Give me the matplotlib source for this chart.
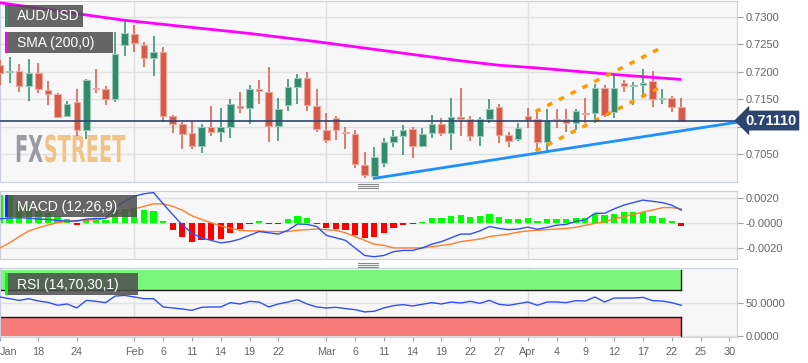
import numpy as np
import pandas as pd
import matplotlib.pyplot as plt
from matplotlib.patches import Rectangle, PathPatch
from matplotlib.lines import Line2D
from matplotlib.textpath import TextPath
from matplotlib.font_manager import FontProperties
import matplotlib.transforms as mtransforms

plt.rcParams['font.family'] = ['Liberation Sans', 'DejaVu Sans']

# ---------------- data ----------------
dates = pd.bdate_range('2019-01-14', '2019-04-30')

opens = [0.7212, 0.7199, 0.7201, 0.7174, 0.7197, 0.7167, 0.7159, 0.7119, 0.7144, 0.7094,
         0.7171, 0.7169, 0.7151, 0.7249, 0.7269, 0.7249, 0.7226, 0.7237, 0.7119, 0.7104,
         0.7089, 0.7065, 0.7100, 0.7090, 0.7100, 0.7138, 0.7134, 0.7168, 0.7164, 0.7101,
         0.7139, 0.7172, 0.7189, 0.7138, 0.7094, 0.7115, 0.7091, 0.7086, 0.7030, 0.7010,
         0.7033, 0.7071, 0.7083, 0.7096, 0.7065, 0.7088, 0.7105, 0.7089, 0.7117, 0.7114,
         0.7082, 0.7114, 0.7135, 0.7085, 0.7077, 0.7120, 0.7114, 0.7072, 0.7114, 0.7114,
         0.7106, 0.7125, 0.7124, 0.7171, 0.7126, 0.7179, 0.7174, 0.7176, 0.7183, 0.7150,
         0.7153, 0.7135]
highs = [0.7222, 0.7227, 0.7214, 0.7223, 0.7216, 0.7183, 0.7162, 0.7147, 0.7168, 0.7186,
         0.7206, 0.7174, 0.7273, 0.7296, 0.7285, 0.7255, 0.7265, 0.7246, 0.7121, 0.7108,
         0.7110, 0.7104, 0.7138, 0.7134, 0.7150, 0.7164, 0.7176, 0.7185, 0.7208, 0.7152,
         0.7186, 0.7196, 0.7200, 0.7168, 0.7124, 0.7119, 0.7100, 0.7094, 0.7053, 0.7063,
         0.7079, 0.7094, 0.7103, 0.7100, 0.7098, 0.7121, 0.7115, 0.7152, 0.7170, 0.7120,
         0.7118, 0.7150, 0.7141, 0.7091, 0.7106, 0.7134, 0.7133, 0.7132, 0.7133, 0.7133,
         0.7133, 0.7153, 0.7177, 0.7175, 0.7194, 0.7185, 0.7181, 0.7206, 0.7201, 0.7168,
         0.7155, 0.7153]
lows = [0.7176, 0.7180, 0.7163, 0.7147, 0.7162, 0.7139, 0.7115, 0.7117, 0.7082, 0.7077,
        0.7161, 0.7139, 0.7145, 0.7229, 0.7237, 0.7209, 0.7193, 0.7109, 0.7089, 0.7060,
        0.7059, 0.7052, 0.7082, 0.7072, 0.7080, 0.7124, 0.7104, 0.7142, 0.7071, 0.7074,
        0.7128, 0.7142, 0.7128, 0.7090, 0.7070, 0.7076, 0.7060, 0.7024, 0.7006, 0.7006,
        0.7027, 0.7062, 0.7049, 0.7043, 0.7062, 0.7080, 0.7083, 0.7057, 0.7083, 0.7074,
        0.7065, 0.7107, 0.7070, 0.7063, 0.7074, 0.7097, 0.7054, 0.7054, 0.7097, 0.7091,
        0.7094, 0.7106, 0.7107, 0.7118, 0.7115, 0.7164, 0.7139, 0.7152, 0.7136, 0.7142,
        0.7127, 0.7109]
closes = [0.7198, 0.7201, 0.7174, 0.7197, 0.7169, 0.7160, 0.7118, 0.7142, 0.7094, 0.7185,
          0.7169, 0.7151, 0.7232, 0.7270, 0.7252, 0.7226, 0.7237, 0.7119, 0.7104, 0.7086,
          0.7065, 0.7100, 0.7090, 0.7100, 0.7142, 0.7134, 0.7168, 0.7165, 0.7101, 0.7132,
          0.7172, 0.7189, 0.7139, 0.7095, 0.7076, 0.7093, 0.7088, 0.7031, 0.7012, 0.7045,
          0.7071, 0.7083, 0.7094, 0.7065, 0.7086, 0.7105, 0.7088, 0.7117, 0.7113, 0.7083,
          0.7114, 0.7133, 0.7085, 0.7074, 0.7097, 0.7112, 0.7072, 0.7112, 0.7112, 0.7106,
          0.7128, 0.7123, 0.7170, 0.7121, 0.7171, 0.7174, 0.7176, 0.7179, 0.7150, 0.7152,
          0.7135, 0.7111]

# SMA(200) read at a few candles
sma_pos = [0, 6, 13, 20, 26, 33, 39, 45, 48, 52, 56, 60, 64, 71]
sma_vals = [0.7326, 0.7311, 0.7294, 0.7281, 0.7270, 0.7255, 0.7241, 0.7227, 0.7220, 0.7212,
            0.7207, 0.7201, 0.7195, 0.7186]

# drawn trendlines (candle index, price)
support_x = [39, 76.8]
support_y = [0.70056, 0.71080]
chan_low_x = [55.8, 68.8]
chan_low_y = [0.70555, 0.71717]
chan_up_x = [55.8, 68.8]
chan_up_y = [0.71272, 0.72429]

macd_hist = [0.0022, 0.0022, 0.0016, 0.0013, 0.0010, 0.0008, 0.0005, 0.0003, -0.0002, 0.00026,
             0.00026, 0.0002, 0.0010, 0.0011, 0.0012, 0.00104, 0.0009, 0.0001, -0.0006, -0.0011,
             -0.00156, -0.0014, -0.0014, -0.0013, -0.0008, -0.0005, -0.00013, 0.00013, -0.0001, -0.0001,
             0.00026, 0.0005, 0.00034, -0.00008, -0.00044, -0.0005, -0.00057, -0.00096, -0.0012, -0.0011,
             -0.0008, -0.0004, -0.0002, -0.00013, 0.00008, 0.00034, 0.0004, 0.00055, 0.00065, 0.00047,
             0.00055, 0.00073, 0.00047, 0.00026, 0.00026, 0.00034, 0.00013, 0.0003, 0.0003, 0.0003,
             0.0004, 0.0004, 0.0007, 0.0006, 0.0007, 0.00086, 0.00086, 0.00086, 0.00055, 0.0004,
             0.00013, -0.00023]
macd_line = [0.00031, 0.00036, 0.0004, 0.00036, 0.0003, 0.00026, 0.00018, 0.00013, 0.00013, 0.00029,
             0.00034, 0.00034, 0.0012, 0.0017, 0.0021, 0.0023, 0.0024, 0.0015, 0.00065, -0.00018,
             -0.00083, -0.0012, -0.0014, -0.0016, -0.0015, -0.0013, -0.0010, -0.0007, -0.0008, -0.0009,
             -0.0006, -0.0001, -0.00013, -0.0003, -0.0010, -0.0012, -0.0014, -0.0020, -0.0026, -0.0027,
             -0.0026, -0.0023, -0.0022, -0.0022, -0.0020, -0.0017, -0.0015, -0.0012, -0.0009, -0.0009,
             -0.00065, -0.0003, -0.00045, -0.00055, -0.0005, -0.00035, -0.00052, -0.00037, -0.0002, -0.00013,
             0.0001, 0.00024, 0.00075, 0.00075, 0.0011, 0.0014, 0.0016, 0.0018, 0.0017, 0.0016,
             0.0014, 0.0010]
macd_signal = [-0.0020, -0.0016, -0.0011, -0.00065, -0.0004, -0.00018, 0.0, 0.0001, 0.00018, 0.0002,
               0.00023, 0.00034, 0.0006, 0.00086, 0.0011, 0.0013, 0.0015, 0.0015, 0.0013, 0.0010,
               0.00055, 0.00026, 0.0, -0.00026, -0.00044, -0.0006, -0.00065, -0.00065, -0.0007, -0.0007,
               -0.0007, -0.0006, -0.00055, -0.0005, -0.00055, -0.0006, -0.0008, -0.0011, -0.0014, -0.0017,
               -0.0018, -0.0020, -0.0020, -0.0020, -0.0020, -0.0019, -0.0018, -0.0017, -0.0015, -0.0014,
               -0.0013, -0.0011, -0.0010, -0.0009, -0.00075, -0.00065, -0.0006, -0.00055, -0.0005, -0.00045,
               -0.00036, -0.0002, -0.00005, 0.00008, 0.0003, 0.00047, 0.00065, 0.00086, 0.0010, 0.0012,
               0.0012, 0.0011]

rsi = [59.6, 57, 54.5, 57, 53.5, 51.5, 47, 49, 43, 54.5,
       53, 51, 61, 62, 59.6, 57, 57, 44.5, 43, 41.4,
       39.4, 44, 44.5, 44.5, 51, 49, 53, 52, 44.5, 49,
       52, 55.5, 49, 44.5, 43, 44, 42, 40.4, 37, 38,
       43, 46.5, 48, 46, 48.5, 51, 49, 52, 50.5, 53,
       50, 54.5, 48.5, 47, 49.5, 52, 47, 52, 52, 51,
       54, 53.5, 59.6, 52, 58, 58, 58, 59, 54, 53.5,
       51, 47]

tick_dates = ['2019-01-14', '2019-01-18', '2019-01-24', '2019-02-01', '2019-02-06', '2019-02-11',
              '2019-02-14', '2019-02-19', '2019-02-22', '2019-03-01', '2019-03-06', '2019-03-11',
              '2019-03-14', '2019-03-19', '2019-03-22', '2019-03-27', '2019-04-01', '2019-04-04',
              '2019-04-09', '2019-04-12', '2019-04-17', '2019-04-22', '2019-04-25', '2019-04-30']
tick_labels = ['Jan', '18', '24', 'Feb', '6', '11', '14', '19', '22', 'Mar', '6', '11',
               '14', '19', '22', '27', 'Apr', '4', '9', '12', '17', '22', '25', '30']
month_dates = ['2019-02-01', '2019-03-01', '2019-04-01']

price_ticks = [0.705, 0.710, 0.715, 0.720, 0.725, 0.730]

# ---------------- layout ----------------
W, H = 808, 363
n = len(closes)
x = np.arange(n)
date_pos = {d.strftime('%Y-%m-%d'): i for i, d in enumerate(dates)}
tick_pos = [date_pos[d] for d in tick_dates]
month_pos = [date_pos[d] for d in month_dates]

fig = plt.figure(figsize=(W / 100, H / 100), dpi=100)
fig.patch.set_facecolor('white')


def panel(top, bottom):
    a = fig.add_axes([0.0, 1 - bottom / H, 737 / W, (bottom - top) / H])
    a.set_facecolor('#f7f7f7')
    for s in a.spines.values():
        s.set_color('#c9cfe0')
    a.yaxis.tick_right()
    a.tick_params(axis='y', color='#9aa0b0', labelcolor='#666666', labelsize=8, length=4, pad=2)
    a.set_xlim(0, 76.8)
    a.grid(axis='y', color='#e1e1e1', lw=1)
    a.set_axisbelow(True)
    for m in month_pos:
        a.axvline(m, color='#e1e1e1', lw=1, zorder=0)
    return a


ax = panel(1, 182)
ax_m = panel(191, 259)
ax_r = panel(268, 337)

# ---------------- price panel ----------------
ax.set_ylim(0.69989, 0.73292)
ax.set_yticks(price_ticks)
# the 0.7100 label sits under the last-price box, so it stays empty
ax.set_yticklabels(['' if abs(v - 0.71) < 1e-9 else '%.4f' % v for v in price_ticks])
ax.tick_params(axis='x', length=0, labelbottom=False)

# watermark
fp = FontProperties(family='DejaVu Sans', weight='bold')
p_fx = TextPath((0, 0), 'FX', size=1, prop=fp)
p_st = TextPath((p_fx.get_extents().x1 + 0.06, 0), 'STREET', size=1, prop=fp)
wm_tr = mtransforms.Affine2D().scale(19.3, 37).translate(15, H - 162)
ax.add_patch(PathPatch(p_fx, transform=wm_tr, fc='#9a9aa2', ec='none', zorder=1))
ax.add_patch(PathPatch(p_st, transform=wm_tr, fc='#f2c386', ec='none', zorder=1))

up = np.array(closes) >= np.array(opens)
body_lo = np.minimum(opens, closes)
body_h = np.maximum(np.abs(np.array(closes) - np.array(opens)), 0.00018)
ccol = np.where(up, '#2f8a6e', '#d65a48')
ecol = np.where(up, '#9cc8b8', '#eda79c')
ax.vlines(x, lows, highs, colors=ccol, lw=1.1, zorder=3)
ax.bar(x, body_h, bottom=body_lo, width=0.68, color=ccol, edgecolor=ecol, lw=0.8, zorder=4)

ax.plot(sma_pos, sma_vals, color='#ff00ff', lw=2, zorder=5, solid_capstyle='butt')
ax.plot(support_x, support_y, color='#1e90ff', lw=2, zorder=5)
ax.plot(chan_low_x, chan_low_y, color='#ff9900', lw=2.5, dashes=(1.6, 2.2), zorder=5)
ax.plot(chan_up_x, chan_up_y, color='#ff9900', lw=2.5, dashes=(1.6, 2.2), zorder=5)

last = closes[-1]
ax.axhline(last, color='#2b4470', lw=1.2, zorder=6)
ax.text(1.011, last, '%.5f' % last, transform=ax.get_yaxis_transform(), ha='left', va='center',
        color='white', fontsize=10.5, fontweight='bold', zorder=10, clip_on=False,
        bbox=dict(boxstyle='larrow,pad=0.2', fc='#2b4470', ec='none'))

# ---------------- MACD panel ----------------
ax_m.set_ylim(-0.00288, 0.00252)
ax_m.set_yticks([0.002, 0.0, -0.002])
ax_m.set_yticklabels(['0.0020', '-0.0000', '-0.0020'])
ax_m.tick_params(axis='x', length=0, labelbottom=False)
hcol = ['#00ff00' if v >= 0 else '#ff0000' for v in macd_hist]
ax_m.bar(x, macd_hist, width=0.65, color=hcol, zorder=2)
ax_m.plot(x, macd_signal, color='#ff7f2a', lw=1, zorder=3)
ax_m.plot(x, macd_line, color='#3050f5', lw=1, zorder=4)

# ---------------- RSI panel ----------------
ax_r.set_ylim(-1, 103.5)
ax_r.set_yticks([50, 0])
ax_r.set_yticklabels(['50.0000', '0.0000'])
band_x = [-1, n - 1]
ax_r.fill_between(band_x, 70, 100, color='#7af77a', lw=0, zorder=1)
ax_r.fill_between(band_x, 0, 30, color='#f77b7b', lw=0, zorder=1)
ax_r.plot(band_x, [70, 70], color='#1a1a1a', lw=1, zorder=2)
ax_r.plot(band_x, [30, 30], color='#1a1a1a', lw=1, zorder=2)
ax_r.plot([n - 1, n - 1], [70, 100], color='#1a1a1a', lw=1, zorder=2)
ax_r.plot([n - 1, n - 1], [0, 30], color='#1a1a1a', lw=1, zorder=2)
ax_r.plot(x, rsi, color='#3050f5', lw=1, zorder=3)

ax_r.set_xticks(tick_pos)
ax_r.set_xticklabels(tick_labels)
ax_r.tick_params(axis='x', color='#9aa0b0', labelcolor='#666666', labelsize=7.8, length=3, pad=4)
ax_r.get_xticklabels()[0].set_ha('left')


# ---------------- overlays (legend boxes, grips) ----------------
def label_box(x0, top, w, h, stripe, text):
    fig.patches.append(Rectangle((x0 / W, 1 - (top + h) / H), w / W, h / H, transform=fig.transFigure,
                                 fc='#4d4d4d', alpha=0.85, ec='none', zorder=5))
    fig.patches.append(Rectangle((x0 / W, 1 - (top + h) / H), 2.5 / W, h / H, transform=fig.transFigure,
                                 fc=stripe, ec='none', zorder=6))
    fig.text((x0 + 12) / W, 1 - (top + h / 2 + 0.5) / H, text, color='white', fontsize=10,
             va='center', ha='left', zorder=7)


label_box(5, 5, 78, 22, '#2f8a6e', 'AUD/USD')
label_box(5, 32, 108, 21, '#ff00ff', 'SMA (200,0)')
label_box(5, 195, 132, 22, '#1030ff', 'MACD (12,26,9)')
label_box(5, 273, 133, 22, '#00ff00', 'RSI (14,70,30,1)')

for gy in [184, 186, 188, 263, 265, 267]:
    fig.add_artist(Line2D([358 / W, 378 / W], [1 - gy / H] * 2, color='#8a8a8a', lw=0.8))

fig.savefig('out.png', dpi=100, facecolor='white')
